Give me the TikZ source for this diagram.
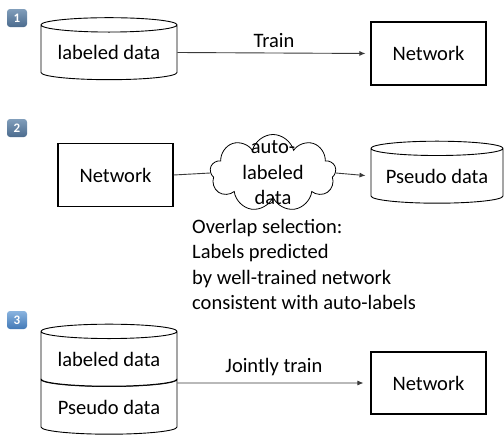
\documentclass[tikz,border=0pt]{standalone}
\usepackage{fontspec}
\setmainfont{Carlito}
\usetikzlibrary{arrows.meta,shapes.geometric,shapes.symbols,calc}
\definecolor{badgetop}{HTML}{819EBB}
\definecolor{badgebot}{HTML}{4B6B8E}
\definecolor{badgetopb}{HTML}{8AB4DF}
\definecolor{badgebotb}{HTML}{4279B7}
\definecolor{linegray}{HTML}{3A3A3A}

\begin{document}
\begin{tikzpicture}[x=1pt,y=-1pt,font=\fontsize{20.5}{25.5}\selectfont,
  box/.style={rectangle,draw=black,line width=1.1pt,minimum width=115pt,minimum height=63pt},
  db/.style={cylinder,shape border rotate=90,draw=black,line width=0.9pt,fill=white,
    aspect=0.14,minimum width=136pt,minimum height=62pt,inner sep=0pt},
  badge/.style={rectangle,rounded corners=3pt,minimum width=20pt,minimum height=18pt,inner sep=0pt,
    top color=badgetop,bottom color=badgebot,text=white,font=\fontsize{13}{13}\selectfont\bfseries},
  flow/.style={draw=linegray,line width=0.9pt,-{Latex[length=6pt,width=5pt]}}]
  \useasboundingbox (0,0) rectangle (504,439);
  % step 1
  \node[badge] (b1) at (17,18) {1};
  \node[db] (lab1) at (109,52.5) {labeled data};
  \node[box] (net1) at (428.5,53.5) {Network};
  \draw[flow,shorten >=5pt] (lab1.east) -- (net1.west) node[midway,above=2pt] {Train};
  % step 2
  \node[badge] (b2) at (17,128) {2};
  \node[box] (net2) at (115.5,175) {Network};
  \node[cloud,draw=black,line width=0.8pt,cloud puffs=9,cloud ignores aspect,
    minimum width=126pt,minimum height=77pt] (auto) at (273,173) {};
  \node[align=center,inner sep=0pt] (autotxt) at (auto) {auto-\\labeled\\data};
  \node[db,minimum width=132pt] (pse2) at (437,176) {Pseudo data};
  \draw[draw=linegray,line width=0.9pt] (net2.east) -- (auto.west);
  \draw[flow,shorten >=5pt] (auto.east) -- (pse2.west);
  \node[align=left,anchor=north west,inner sep=0pt] (note) at (192,219)
    {Overlap selection:\\Labels predicted\\by well-trained network\\consistent with auto-labels};
  % step 3
  \node[badge,top color=badgetopb,bottom color=badgebotb] (b3) at (17,320) {3};
  \node[db] (pse3) at (109,407) {Pseudo data};
  \node[db] (lab3) at (109,359) {labeled data};
  \coordinate (both) at ($(lab3.east)!.5!(pse3.east)$);
  \node[box,minimum height=62pt] (net3) at (428.5,383) {Network};
  \draw[flow,shorten >=7pt] (both) -- (net3.west) node[midway,above=3pt] {Jointly train};
\end{tikzpicture}
\end{document}
